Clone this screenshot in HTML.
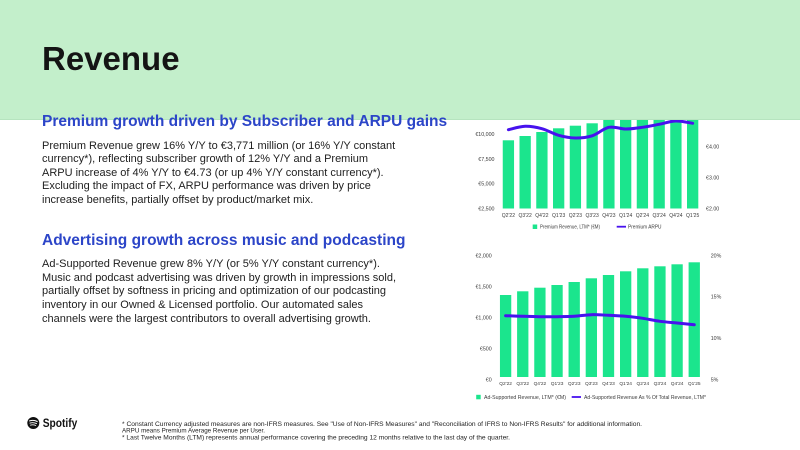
<!DOCTYPE html>
<html>
<head>
<meta charset="utf-8">
<style>
  html, body { margin:0; padding:0; }
  body { width:800px; height:450px; position:relative; overflow:hidden; background:#ffffff; font-family:"Liberation Sans", Arial, sans-serif; }
  #charts { position:absolute; left:0; top:0; z-index:1; }
  #header { position:absolute; left:0; top:0; width:800px; height:120px; background:#c3efcb; border-bottom:1px solid #b6e4bf; box-sizing:border-box; z-index:2; }
  .t { position:absolute; z-index:3; white-space:nowrap; }
  #title { left:42px; top:42px; font-size:33px; line-height:33px; font-weight:bold; color:#141414; }
  .h2 { left:42px; font-size:15.5px; line-height:15.5px; font-weight:bold; color:#2c45c8; }
  .body { left:42px; font-size:11px; line-height:13.6px; color:#1e1e1e; }
  #footer { position:absolute; left:0; top:0; z-index:3; }
</style>
</head>
<body>

<svg id="charts" width="800" height="450" viewBox="0 0 800 450" xmlns="http://www.w3.org/2000/svg" font-family="Liberation Sans, Arial, sans-serif">
  <!-- ===== Chart 1: Premium ===== -->
  <g fill="#1be58d">
    <rect x="502.75" y="140.3" width="11.3" height="68.2"/>
    <rect x="519.5"  y="136"   width="11.3" height="72.5"/>
    <rect x="536.25" y="132"   width="11.3" height="76.5"/>
    <rect x="553"    y="128.3" width="11.3" height="80.2"/>
    <rect x="569.75" y="125.7" width="11.3" height="82.8"/>
    <rect x="586.5"  y="123.3" width="11.3" height="85.2"/>
    <rect x="603.25" y="100"   width="11.3" height="108.5"/>
    <rect x="620"    y="100"   width="11.3" height="108.5"/>
    <rect x="636.75" y="100"   width="11.3" height="108.5"/>
    <rect x="653.5"  y="100"   width="11.3" height="108.5"/>
    <rect x="670.25" y="100"   width="11.3" height="108.5"/>
    <rect x="687"    y="100"   width="11.3" height="108.5"/>
  </g>
  <path fill="none" stroke="#4712ee" stroke-width="3" stroke-linecap="round" stroke-linejoin="round"
    d="M508.4,129.7 C511.19,129.13 519.57,126.47 525.15,126.3
       C530.73,126.13 536.32,127.2 541.9,128.7
       C547.48,130.2 553.07,133.75 558.65,135.3
       C564.23,136.85 569.82,137.92 575.4,138
       C580.98,138.08 586.57,137.58 592.15,135.8
       C597.73,134.02 603.32,128.43 608.9,127.3
       C614.48,126.17 620.07,129 625.65,129
       C631.23,129 636.82,128.08 642.4,127.3
       C647.98,126.52 653.57,125.35 659.15,124.3
       C664.73,123.25 670.32,121.17 675.9,121
       C681.48,120.83 689.86,122.92 692.65,123.3"/>
  <g font-size="5.3" fill="#3a3a3a" text-anchor="end">
    <text x="494.5" y="136">€10,000</text>
    <text x="494.5" y="160.9">€7,500</text>
    <text x="494.5" y="185.6">€5,000</text>
    <text x="494.5" y="210.6">€2,500</text>
  </g>
  <g font-size="5.3" fill="#3a3a3a">
    <text x="706" y="148.6">€4.00</text>
    <text x="706" y="179.6">€3.00</text>
    <text x="706" y="210.6">€2.00</text>
  </g>
  <g font-size="5" fill="#3a3a3a" text-anchor="middle">
    <text x="508.4" y="217">Q2'22</text>
    <text x="525.15" y="217">Q3'22</text>
    <text x="541.9" y="217">Q4'22</text>
    <text x="558.65" y="217">Q1'23</text>
    <text x="575.4" y="217">Q2'23</text>
    <text x="592.15" y="217">Q3'23</text>
    <text x="608.9" y="217">Q4'23</text>
    <text x="625.65" y="217">Q1'24</text>
    <text x="642.4" y="217">Q2'24</text>
    <text x="659.15" y="217">Q3'24</text>
    <text x="675.9" y="217">Q4'24</text>
    <text x="692.65" y="217">Q1'25</text>
  </g>
  <rect x="532.7" y="224.5" width="4.5" height="4.5" fill="#1be58d"/>
  <text x="540" y="228.6" font-size="5.3" fill="#3a3a3a" textLength="60" lengthAdjust="spacingAndGlyphs">Premium Revenue, LTM* (€M)</text>
  <line x1="616.7" y1="226.7" x2="626" y2="226.7" stroke="#4712ee" stroke-width="1.8"/>
  <text x="628" y="228.6" font-size="5.3" fill="#3a3a3a" textLength="33.5" lengthAdjust="spacingAndGlyphs">Premium ARPU</text>

  <!-- ===== Chart 2: Ad-Supported ===== -->
  <g fill="#1be58d">
    <rect x="499.95" y="295"   width="11.3" height="82"/>
    <rect x="517.1"  y="291.3" width="11.3" height="85.7"/>
    <rect x="534.25" y="287.7" width="11.3" height="89.3"/>
    <rect x="551.4"  y="285"   width="11.3" height="92"/>
    <rect x="568.55" y="282"   width="11.3" height="95"/>
    <rect x="585.7"  y="278.3" width="11.3" height="98.7"/>
    <rect x="602.85" y="275"   width="11.3" height="102"/>
    <rect x="620"    y="271.3" width="11.3" height="105.7"/>
    <rect x="637.15" y="268.3" width="11.3" height="108.7"/>
    <rect x="654.3"  y="266.3" width="11.3" height="110.7"/>
    <rect x="671.45" y="264.3" width="11.3" height="112.7"/>
    <rect x="688.6"  y="262.3" width="11.3" height="114.7"/>
  </g>
  <path fill="none" stroke="#4712ee" stroke-width="3" stroke-linecap="round" stroke-linejoin="round"
    d="M505.6,315.7 C508.46,315.8 517.03,316.13 522.75,316.3
       C528.47,316.47 534.18,316.63 539.9,316.7
       C545.62,316.77 551.33,316.77 557.05,316.7
       C562.77,316.63 568.48,316.63 574.2,316.3
       C579.92,315.97 585.63,314.87 591.35,314.7
       C597.07,314.53 602.78,315.03 608.5,315.3
       C614.22,315.57 619.93,315.8 625.65,316.3
       C631.37,316.8 637.08,317.47 642.8,318.3
       C648.52,319.13 654.23,320.52 659.95,321.3
       C665.67,322.08 671.38,322.43 677.1,323
       C682.82,323.57 691.39,324.42 694.25,324.7"/>
  <g font-size="5.3" fill="#3a3a3a" text-anchor="end">
    <text x="491.7" y="257.6">€2,000</text>
    <text x="491.7" y="288.6">€1,500</text>
    <text x="491.7" y="319.6">€1,000</text>
    <text x="491.7" y="350.6">€500</text>
    <text x="491.7" y="381.4">€0</text>
  </g>
  <g font-size="5.3" fill="#3a3a3a">
    <text x="710.7" y="257.6">20%</text>
    <text x="710.7" y="298.6">15%</text>
    <text x="710.7" y="340.2">10%</text>
    <text x="710.7" y="381.4">5%</text>
  </g>
  <g font-size="4.8" fill="#3a3a3a" text-anchor="middle">
    <text x="505.6" y="385">Q2'22</text>
    <text x="522.75" y="385">Q3'22</text>
    <text x="539.9" y="385">Q4'22</text>
    <text x="557.05" y="385">Q1'23</text>
    <text x="574.2" y="385">Q2'23</text>
    <text x="591.35" y="385">Q3'23</text>
    <text x="608.5" y="385">Q4'23</text>
    <text x="625.65" y="385">Q1'24</text>
    <text x="642.8" y="385">Q2'24</text>
    <text x="659.95" y="385">Q3'24</text>
    <text x="677.1" y="385">Q4'24</text>
    <text x="694.25" y="385">Q1'25</text>
  </g>
  <rect x="476.2" y="394.8" width="4.5" height="4.5" fill="#1be58d"/>
  <text x="484" y="398.9" font-size="5.3" fill="#3a3a3a" textLength="82" lengthAdjust="spacingAndGlyphs">Ad-Supported Revenue, LTM* (€M)</text>
  <line x1="571.7" y1="397" x2="581" y2="397" stroke="#4712ee" stroke-width="1.8"/>
  <text x="584" y="398.9" font-size="5.3" fill="#3a3a3a" textLength="122" lengthAdjust="spacingAndGlyphs">Ad-Supported Revenue As % Of Total Revenue, LTM*</text>
</svg>

<div id="header"></div>

<div class="t" id="title">Revenue</div>

<div class="t h2" style="top:114.4px;">Premium growth driven by Subscriber and ARPU gains</div>
<div class="t body" style="top:139.5px;">Premium Revenue grew 16% Y/Y to €3,771 million (or 16% Y/Y constant<br>currency*), reflecting subscriber growth of 12% Y/Y and a Premium<br>ARPU increase of 4% Y/Y to €4.73 (or up 4% Y/Y constant currency*).<br>Excluding the impact of FX, ARPU performance was driven by price<br>increase benefits, partially offset by product/market mix.</div>

<div class="t h2" style="top:232.6px;">Advertising growth across music and podcasting</div>
<div class="t body" style="top:258.2px;">Ad-Supported Revenue grew 8% Y/Y (or 5% Y/Y constant currency*).<br>Music and podcast advertising was driven by growth in impressions sold,<br>partially offset by softness in pricing and optimization of our podcasting<br>inventory in our Owned &amp; Licensed portfolio. Our automated sales<br>channels were the largest contributors to overall advertising growth.</div>

<svg id="footer" width="800" height="450" viewBox="0 0 800 450" xmlns="http://www.w3.org/2000/svg" font-family="Liberation Sans, Arial, sans-serif">
  <!-- Spotify logo -->
  <circle cx="33.3" cy="423" r="6" fill="#111"/>
  <path d="M29.6,420.9 Q33.6,419.6 37.2,421.5" fill="none" stroke="#fff" stroke-width="1.1" stroke-linecap="round"/>
  <path d="M30,423.1 Q33.4,422.1 36.5,423.6" fill="none" stroke="#fff" stroke-width="0.95" stroke-linecap="round"/>
  <path d="M30.4,425.1 Q33.3,424.4 35.8,425.5" fill="none" stroke="#fff" stroke-width="0.8" stroke-linecap="round"/>
  <text x="42.7" y="427" font-size="11.5" font-weight="bold" fill="#111" textLength="34.6" lengthAdjust="spacingAndGlyphs">Spotify</text>
  <!-- Footnotes -->
  <g font-size="6" fill="#222">
    <text x="122" y="425.8" textLength="520" lengthAdjust="spacingAndGlyphs">* Constant Currency adjusted measures are non-IFRS measures. See "Use of Non-IFRS Measures" and "Reconciliation of IFRS to Non-IFRS Results" for additional information.</text>
    <text x="122" y="432.6" textLength="143" lengthAdjust="spacingAndGlyphs">ARPU means Premium Average Revenue per User.</text>
    <text x="122" y="439.4" textLength="388" lengthAdjust="spacingAndGlyphs">* Last Twelve Months (LTM) represents annual performance covering the preceding 12 months relative to the last day of the quarter.</text>
  </g>
</svg>

</body>
</html>
